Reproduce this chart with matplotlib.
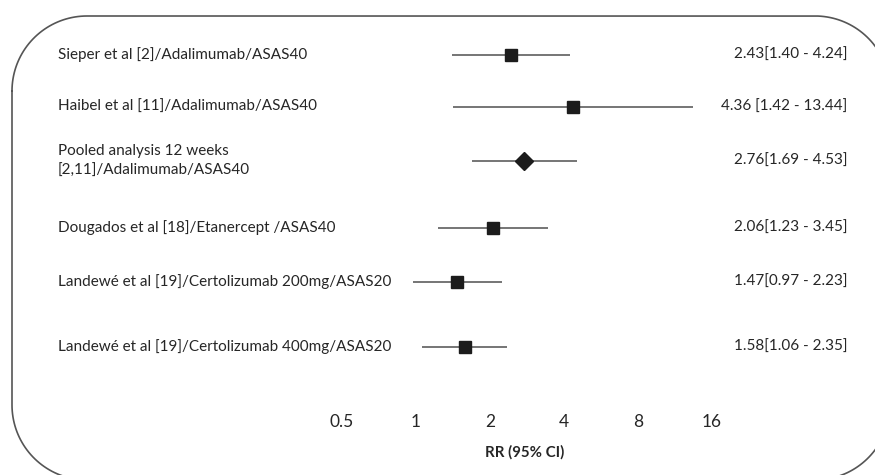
import matplotlib
matplotlib.use("Agg")
import matplotlib.pyplot as plt
import numpy as np

# ---- data ----
studies = [
    "Sieper et al [2]/Adalimumab/ASAS40",
    "Haibel et al [11]/Adalimumab/ASAS40",
    "Pooled analysis 12 weeks\n[2,11]/Adalimumab/ASAS40",
    "Dougados et al [18]/Etanercept /ASAS40",
    "Landewé et al [19]/Certolizumab 200mg/ASAS20",
    "Landewé et al [19]/Certolizumab 400mg/ASAS20",
]
rr = [2.43, 4.36, 2.76, 2.06, 1.47, 1.58]
ci_low = [1.40, 1.42, 1.69, 1.23, 0.97, 1.06]
ci_high = [4.24, 13.44, 4.53, 3.45, 2.23, 2.35]
ci_text = [
    "2.43[1.40 - 4.24]",
    "4.36 [1.42 - 13.44]",
    "2.76[1.69 - 4.53]",
    "2.06[1.23 - 3.45]",
    "1.47[0.97 - 2.23]",
    "1.58[1.06 - 2.35]",
]
is_pooled = [False, False, True, False, False, False]
tick_values = [0.5, 1, 2, 4, 8, 16]
tick_labels = ["0.5", "1", "2", "4", "8", "16"]
x_label = "RR (95% CI)"

# ---- layout (pixel positions, top-down) ----
W, H = 875, 475
row_y = [55, 107, 161, 228, 282, 347]
tick_y = 422
xlabel_y = 452
px_one = 416.0      # pixel of RR = 1
px_per_doubling = 74.0
box_l, box_r, box_t, box_b, box_rad = 12, 890, 16, 480, 75

plt.rcParams['font.family'] = ['Lato', 'DejaVu Sans']
fig = plt.figure(figsize=(W / 100, H / 100), dpi=100)

# background axes (linear pixel coords) for the rounded frame
bg = fig.add_axes([0, 0, 1, 1])
bg.set_xlim(0, W)
bg.set_ylim(H, 0)
bg.axis('off')


def arc(cx, cy, a0, a1, n=40):
    a = np.radians(np.linspace(a0, a1, n))
    return cx + box_rad * np.cos(a), cy + box_rad * np.sin(a)

segs_x, segs_y = [], []
x, y = arc(box_l + box_rad, box_t + box_rad, 180, 270)   # top-left
segs_x.append(x); segs_y.append(y)
x, y = arc(box_r - box_rad, box_t + box_rad, 270, 360)   # top-right
segs_x.append(x); segs_y.append(y)
x, y = arc(box_r - box_rad, box_b - box_rad, 0, 90)      # bottom-right
segs_x.append(x); segs_y.append(y)
x, y = arc(box_l + box_rad, box_b - box_rad, 90, 180)    # bottom-left
segs_x.append(x); segs_y.append(y)
bx = np.concatenate(segs_x + [segs_x[0][:1]])
by = np.concatenate(segs_y + [segs_y[0][:1]])
bg.plot(bx, by, color="#555555", lw=1.2)

# main axes on a log2 scale
ax = fig.add_axes([0, 0, 1, 1], facecolor='none')
ax.set_xscale('log', base=2)
ax.set_xlim(2 ** ((0 - px_one) / px_per_doubling), 2 ** ((W - px_one) / px_per_doubling))
ax.set_ylim(H, 0)
ax.axis('off')

line_col = "#505050"
mark_col = "#1c1c1c"
text_col = "#262626"

for i, yy in enumerate(row_y):
    ax.plot([ci_low[i], ci_high[i]], [yy, yy], color=line_col, lw=1.1,
            solid_capstyle='butt', zorder=2)
    if is_pooled[i]:
        ax.plot(rr[i], yy, marker='D', ms=8.8, color=mark_col, mec=mark_col, zorder=3)
    else:
        ax.plot(rr[i], yy, marker='s', ms=9.2, color=mark_col, mec=mark_col, zorder=3)
    bg.text(58, yy, studies[i], ha='left', va='center', fontsize=11,
            color=text_col, linespacing=1.6)
    bg.text(847, yy, ci_text[i], ha='right', va='center', fontsize=11, color=text_col)

for t, lab in zip(tick_values, tick_labels):
    ax.text(t, tick_y, lab, ha='center', va='center', fontsize=12.5, color=text_col)

bg.text(485, xlabel_y, x_label, ha='left', va='center', fontsize=10.8,
        fontweight='bold', color=text_col)

fig.savefig("out.png", dpi=100)
